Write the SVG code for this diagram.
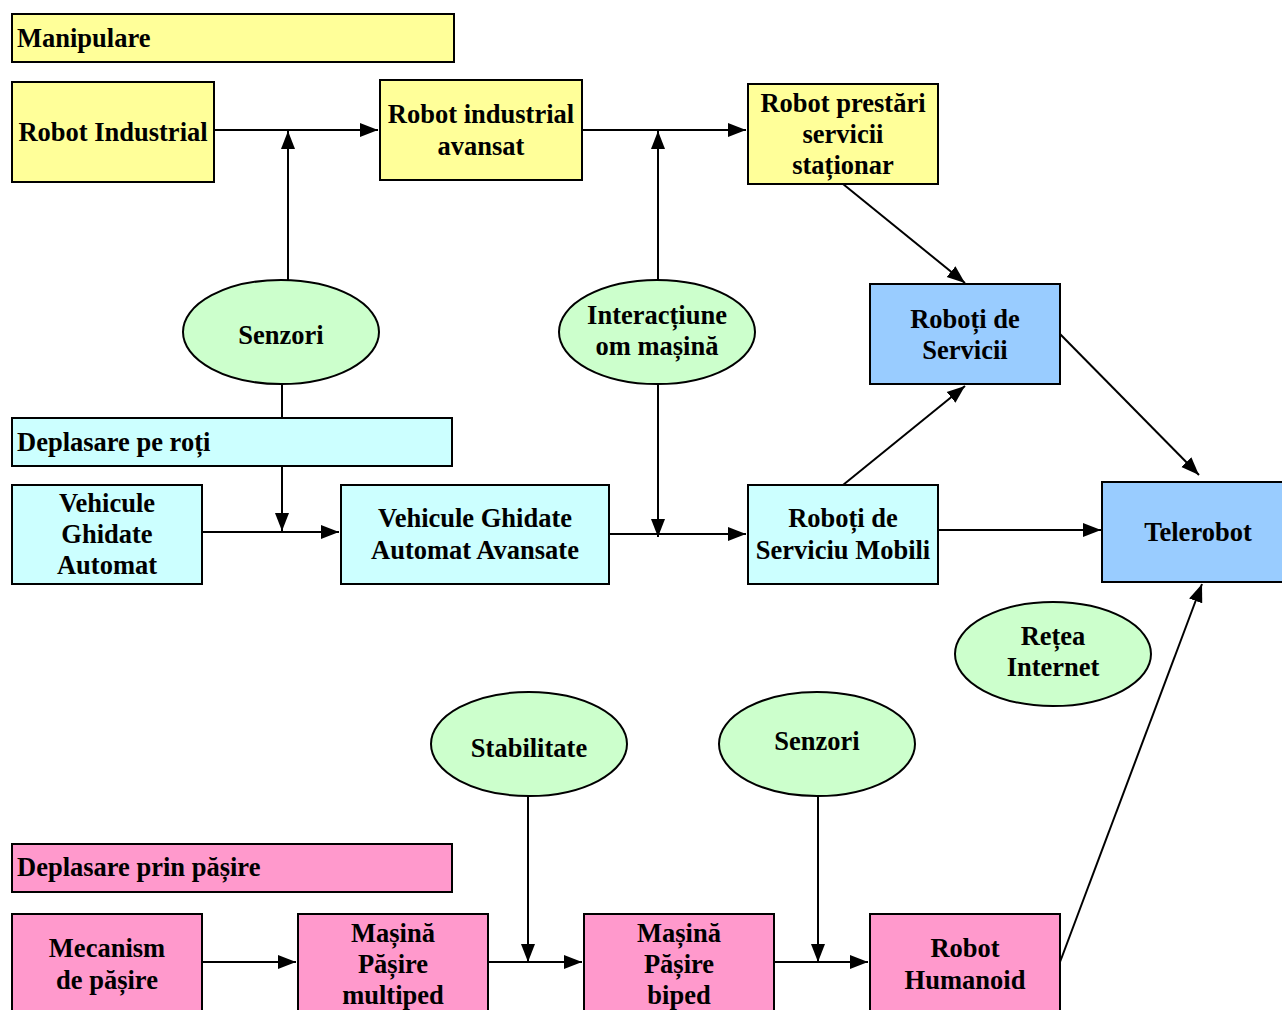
<svg xmlns="http://www.w3.org/2000/svg" width="1282" height="1010" viewBox="0 0 1282 1010">
<defs>
<marker id="ah" markerUnits="userSpaceOnUse" markerWidth="20" markerHeight="16" refX="18" refY="8" orient="auto">
<path d="M0,1 L18,8 L0,15 Z" fill="#000"/>
</marker>
<style>
rect,ellipse{stroke:#000;stroke-width:2}
.y{fill:#FFFF99}.c{fill:#CCFFFF}.b{fill:#99CCFF}.p{fill:#FF99CC}.g{fill:#CCFFCC}
text{font-family:"Liberation Serif","Times New Roman",serif;font-weight:bold;font-size:26.5px;fill:#000;text-anchor:middle}
text.l{text-anchor:start}
.e line{stroke:#000;stroke-width:2}
</style>
</defs>
<rect width="1282" height="1010" fill="#fff" style="stroke:none"/>
<g class="e" id="connectors">
<line x1="214" y1="130" x2="378" y2="130" marker-end="url(#ah)"/>
<line x1="288" y1="280" x2="288" y2="131" marker-end="url(#ah)"/>
<line x1="582" y1="130" x2="746" y2="130" marker-end="url(#ah)"/>
<line x1="658" y1="280" x2="658" y2="131" marker-end="url(#ah)"/>
<line x1="843" y1="184" x2="965" y2="283" marker-end="url(#ah)"/>
<line x1="1060" y1="334" x2="1199" y2="475" marker-end="url(#ah)"/>
<line x1="282" y1="384" x2="282" y2="418"/>
<line x1="282" y1="466" x2="282" y2="531" marker-end="url(#ah)"/>
<line x1="202" y1="532" x2="339" y2="532" marker-end="url(#ah)"/>
<line x1="609" y1="534" x2="746" y2="534" marker-end="url(#ah)"/>
<line x1="658" y1="384" x2="658" y2="537" marker-end="url(#ah)"/>
<line x1="843" y1="485" x2="965" y2="386" marker-end="url(#ah)"/>
<line x1="938" y1="530" x2="1101" y2="530" marker-end="url(#ah)"/>
<line x1="202" y1="962" x2="296" y2="962" marker-end="url(#ah)"/>
<line x1="488" y1="962" x2="582" y2="962" marker-end="url(#ah)"/>
<line x1="528" y1="796" x2="528" y2="962" marker-end="url(#ah)"/>
<line x1="774" y1="962" x2="868" y2="962" marker-end="url(#ah)"/>
<line x1="818" y1="796" x2="818" y2="962" marker-end="url(#ah)"/>
<line x1="1060" y1="962" x2="1202" y2="584" marker-end="url(#ah)"/>
</g>
<g id="manipulare"><rect class="y" x="12" y="14" width="442" height="48"/><text class="l" x="17" y="47">Manipulare</text></g>
<g id="robot-industrial"><rect class="y" x="12" y="82" width="202" height="100"/><text x="113" y="141">Robot Industrial</text></g>
<g id="robot-industrial-avansat"><rect class="y" x="380" y="80" width="202" height="100"/><text x="481" y="123">Robot industrial</text><text x="481" y="155">avansat</text></g>
<g id="robot-prestari"><rect class="y" x="748" y="84" width="190" height="100"/><text x="843" y="112">Robot prestări</text><text x="843" y="143">servicii</text><text x="843" y="174">staționar</text></g>
<g id="senzori1"><ellipse class="g" cx="281" cy="332" rx="98" ry="52"/><text x="281" y="344">Senzori</text></g>
<g id="interactiune"><ellipse class="g" cx="657" cy="332" rx="98" ry="52"/><text x="657" y="324">Interacțiune</text><text x="657" y="355">om mașină</text></g>
<g id="roboti-servicii"><rect class="b" x="870" y="284" width="190" height="100"/><text x="965" y="328">Roboți de</text><text x="965" y="359">Servicii</text></g>
<g id="deplasare-roti"><rect class="c" x="12" y="418" width="440" height="48"/><text class="l" x="17" y="451">Deplasare pe roți</text></g>
<g id="vga"><rect class="c" x="12" y="485" width="190" height="99"/><text x="107" y="512">Vehicule</text><text x="107" y="543">Ghidate</text><text x="107" y="574">Automat</text></g>
<g id="vgaa"><rect class="c" x="341" y="485" width="268" height="99"/><text x="475" y="527">Vehicule Ghidate</text><text x="475" y="559">Automat Avansate</text></g>
<g id="roboti-mobili"><rect class="c" x="748" y="485" width="190" height="99"/><text x="843" y="527">Roboți de</text><text x="843" y="559">Serviciu Mobili</text></g>
<g id="telerobot"><rect class="b" x="1102" y="482" width="192" height="100"/><text x="1198" y="541">Telerobot</text></g>
<g id="retea"><ellipse class="g" cx="1053" cy="654" rx="98" ry="52"/><text x="1053" y="645">Rețea</text><text x="1053" y="676">Internet</text></g>
<g id="stabilitate"><ellipse class="g" cx="529" cy="744" rx="98" ry="52"/><text x="529" y="757">Stabilitate</text></g>
<g id="senzori2"><ellipse class="g" cx="817" cy="744" rx="98" ry="52"/><text x="817" y="750">Senzori</text></g>
<g id="deplasare-pasire"><rect class="p" x="12" y="844" width="440" height="48"/><text class="l" x="17" y="876">Deplasare prin pășire</text></g>
<g id="mecanism"><rect class="p" x="12" y="914" width="190" height="110"/><text x="107" y="957">Mecanism</text><text x="107" y="989">de pășire</text></g>
<g id="multiped"><rect class="p" x="298" y="914" width="190" height="110"/><text x="393" y="942">Mașină</text><text x="393" y="973">Pășire</text><text x="393" y="1004">multiped</text></g>
<g id="biped"><rect class="p" x="584" y="914" width="190" height="110"/><text x="679" y="942">Mașină</text><text x="679" y="973">Pășire</text><text x="679" y="1004">biped</text></g>
<g id="humanoid"><rect class="p" x="870" y="914" width="190" height="110"/><text x="965" y="957">Robot</text><text x="965" y="989">Humanoid</text></g>
</svg>
